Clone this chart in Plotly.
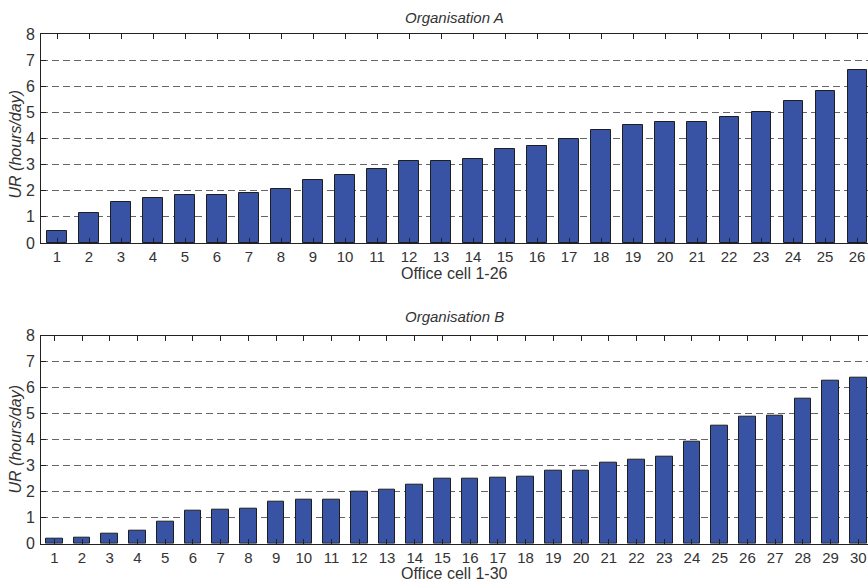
import plotly.graph_objects as go

# Office cells and usage rates (hours/day)
cells_a = list(range(1, 27))
ur_a = [0.45, 1.16, 1.57, 1.73, 1.82, 1.82, 1.93, 2.07, 2.41, 2.62, 2.83, 3.12, 3.15,
        3.22, 3.60, 3.70, 4.00, 4.31, 4.51, 4.63, 4.63, 4.83, 5.00, 5.45, 5.83, 6.62]

cells_b = list(range(1, 31))
ur_b = [0.18, 0.23, 0.40, 0.49, 0.85, 1.27, 1.32, 1.36, 1.62, 1.68, 1.68, 2.00, 2.06,
        2.26, 2.49, 2.51, 2.55, 2.59, 2.82, 2.82, 3.13, 3.24, 3.36, 3.94, 4.55, 4.87,
        4.91, 5.59, 6.27, 6.40]

y_ticks = list(range(0, 9))

titles = ["Organisation A", "Organisation B"]
x_titles = ["Office cell 1-26", "Office cell 1-30"]
y_title = "UR (hours/day)"

W, H = 868, 581
LEFT = 41
BAR_COLOR = "#3853a4"
EDGE_COLOR = "#1e1e1e"
AXIS_COLOR = "#222222"
GRID_COLOR = "#666666"
FONT = "Liberation Sans, Arial, Helvetica, sans-serif"
FS = 15


def py(p):
    """Pixel row -> paper y."""
    return 1 - p / H


def px(p):
    """Pixel column -> paper x."""
    return (p - LEFT) / (W - LEFT)


fig = go.Figure()
fig.add_trace(go.Bar(x=cells_a, y=ur_a, width=0.6, xaxis="x", yaxis="y",
                     marker=dict(color=BAR_COLOR, line=dict(color=EDGE_COLOR, width=1)),
                     showlegend=False))
fig.add_trace(go.Bar(x=cells_b, y=ur_b, width=0.6, xaxis="x2", yaxis="y2",
                     marker=dict(color=BAR_COLOR, line=dict(color=EDGE_COLOR, width=1)),
                     showlegend=False))

common_x = dict(ticks="inside", ticklen=5, tickcolor=AXIS_COLOR, showline=True,
                linecolor=AXIS_COLOR, linewidth=1, mirror="ticks", showgrid=False,
                zeroline=False, tickfont=dict(size=FS, color="#333"), fixedrange=True)
common_y = dict(range=[0, 8], tickvals=y_ticks, ticks="inside", ticklen=5,
                tickcolor=AXIS_COLOR, showline=True, linecolor=AXIS_COLOR, linewidth=1,
                mirror=False, showgrid=True, gridcolor=GRID_COLOR, gridwidth=1,
                griddash="7px,4px", zeroline=False, ticklabelstandoff=2,
                tickfont=dict(size=FS + 1, color="#333"), fixedrange=True)

fig.update_layout(
    width=W, height=H,
    margin=dict(l=LEFT, r=0, t=0, b=0, autoexpand=False),
    paper_bgcolor="white", plot_bgcolor="white",
    font=dict(family=FONT, size=FS, color="#333"),
    bargap=0,
    xaxis=dict(domain=[0, 1], anchor="y", range=[0.5, 26.34], tickvals=cells_a, **common_x),
    yaxis=dict(domain=[py(243), py(34)], anchor="x", **common_y),
    xaxis2=dict(domain=[0, 1], anchor="y2", range=[0.52, 30.35], tickvals=cells_b, **common_x),
    yaxis2=dict(domain=[py(543.7), py(335.7)], anchor="x2", **common_y),
)

ann = []
for title, ypix in zip(titles, [17, 316.7]):
    ann.append(dict(text=f"<i>{title}</i>", x=0.5, y=py(ypix), xref="paper", yref="paper",
                    xanchor="center", yanchor="middle", showarrow=False,
                    font=dict(size=FS)))
for title, ypix in zip(x_titles, [274, 573]):
    ann.append(dict(text=title, x=0.5, y=py(ypix), xref="paper", yref="paper",
                    xanchor="center", yanchor="middle", showarrow=False,
                    font=dict(size=FS + 1)))
for ypix in [145, 440]:
    ann.append(dict(text=f"<i>{y_title}</i>", x=px(14.5), y=py(ypix), xref="paper",
                    yref="paper", xanchor="center", yanchor="middle", textangle=-90,
                    showarrow=False, font=dict(size=FS + 1)))
fig.update_layout(annotations=ann)

fig.write_html("out.html")
